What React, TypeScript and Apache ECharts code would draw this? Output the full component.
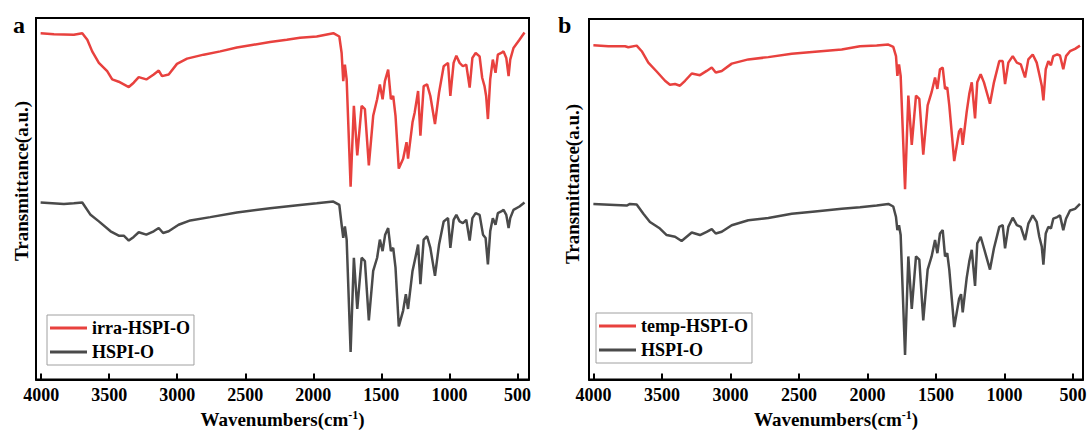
import React, { useEffect, useRef } from 'react';
import * as echarts from 'echarts';

// Wavenumber tick values (cm^-1)
const xTicks = [500, 1000, 1500, 2000, 2500, 3000, 3500, 4000];

// Panel a: [wavenumber, transmittance (a.u., offset)]
const irraHSPIO: [number, number][] = [
  [4004, 349.7], [3906, 348.7], [3760, 348], [3698, 349.7], [3661, 343], [3625, 331.3], [3576, 319.7],
  [3515, 311.3], [3478, 303], [3430, 300.7], [3393, 298], [3356, 295.3], [3320, 299.7], [3283, 305.3],
  [3227, 303], [3173, 308], [3136, 312], [3112, 306.3], [3063, 308], [3002, 318.7], [2928, 324],
  [2806, 328], [2684, 331.3], [2562, 335.3], [2440, 338], [2318, 340.7], [2195, 343], [2098, 345],
  [1975, 346.3], [1853, 349.7], [1809, 346.3], [1792, 329.7], [1780, 301.3], [1768, 318], [1755, 303],
  [1726, 194.7], [1702, 276.3], [1677, 226.3], [1645, 276.3], [1621, 273], [1592, 216.3], [1560, 266.3],
  [1531, 283], [1511, 298], [1491, 283], [1474, 301.3], [1450, 313], [1430, 283], [1413, 286.3],
  [1396, 266.3], [1372, 213], [1340, 223], [1315, 239.7], [1304, 223], [1271, 259.7], [1255, 269.7],
  [1230, 291.3], [1213, 246.3], [1189, 296.3], [1164, 298], [1140, 286.3], [1106, 258], [1076, 289.7],
  [1042, 316.3], [1010, 319.7], [993, 286.3], [969, 319.7], [949, 327], [925, 319.7], [901, 316.3],
  [876, 318], [851, 294.7], [831, 324.7], [807, 329.7], [778, 326.3], [759, 304.7], [742, 296.3],
  [730, 286.3], [717, 263], [700, 303], [681, 323], [661, 309.7], [644, 328], [619, 329.7], [602, 331.3],
  [582, 324.7], [565, 306.3], [553, 323], [529, 334.7], [485, 343], [448, 350.3],
];

const hspiOA: [number, number][] = [
  [4004, 178.7], [3833, 177.3], [3760, 178], [3698, 178.7], [3637, 166.3], [3576, 159.7], [3490, 149.7],
  [3430, 145.3], [3393, 145.3], [3356, 140.3], [3320, 144], [3283, 148.7], [3227, 146.3], [3173, 149.7],
  [3136, 153], [3104, 148], [3063, 149.7], [2990, 156.3], [2904, 160.7], [2757, 164], [2562, 168.7],
  [2318, 173], [2098, 176.3], [1975, 178], [1853, 179.7], [1809, 176.3], [1792, 156.3], [1780, 143],
  [1768, 154.7], [1755, 141.3], [1726, 28], [1702, 123], [1677, 71.3], [1645, 123], [1621, 119.7],
  [1592, 59.7], [1560, 109.7], [1531, 123], [1511, 141.3], [1491, 129.7], [1472, 146.3], [1450, 153],
  [1430, 129.7], [1413, 133], [1396, 113], [1372, 53.7], [1340, 69.7], [1320, 86.3], [1304, 71.3],
  [1271, 109.7], [1255, 119.7], [1230, 136.3], [1213, 96.3], [1189, 141.3], [1164, 144.7], [1140, 133],
  [1106, 104.7], [1076, 136.3], [1042, 159.7], [1010, 163], [993, 133], [969, 161.3], [949, 166.3],
  [925, 159.7], [901, 158], [876, 161.3], [851, 140.3], [831, 163], [807, 168], [778, 166.3], [753, 146.3],
  [734, 143], [717, 116.3], [700, 149.7], [681, 163], [661, 156.3], [644, 168], [619, 169.7], [602, 171.3],
  [582, 166.3], [565, 153], [553, 163], [529, 171.3], [485, 174.7], [448, 178.7],
];

// Panel b
const tempHSPIO: [number, number][] = [
  [4001, 339.3], [3892, 338.3], [3770, 338.3], [3746, 337.3], [3685, 339], [3648, 333.3], [3600, 321.7],
  [3539, 312.7], [3478, 303.3], [3442, 299.3], [3405, 300], [3369, 298.3], [3332, 303.3], [3283, 310.7],
  [3223, 309], [3174, 313.3], [3137, 316.7], [3108, 311.7], [3064, 313.3], [2991, 320.7], [2870, 325],
  [2724, 327.3], [2553, 330.7], [2383, 332.7], [2188, 335], [2055, 338.3], [1933, 339], [1848, 340],
  [1812, 337.7], [1792, 328.3], [1782, 308.3], [1770, 320], [1758, 308.3], [1726, 193.3], [1702, 288.3],
  [1677, 238.3], [1646, 288.3], [1622, 285], [1593, 228.3], [1561, 278.3], [1532, 291.7], [1507, 306.7],
  [1490, 295], [1471, 315], [1451, 316.7], [1434, 295], [1418, 296.7], [1403, 278.3], [1367, 221.7],
  [1332, 251.7], [1317, 255], [1305, 238.3], [1276, 271.7], [1257, 290], [1239, 301.7], [1215, 265],
  [1199, 301.7], [1174, 310], [1150, 301.7], [1106, 280], [1077, 301.7], [1038, 323.3], [1013, 323.3],
  [996, 300], [972, 321.7], [940, 328.3], [910, 321.7], [881, 320], [850, 306.7], [826, 325], [794, 330],
  [765, 321.7], [746, 310], [728, 298.3], [716, 283.3], [699, 315], [680, 323.3], [661, 319], [644, 328.3],
  [615, 330], [595, 329], [571, 315], [551, 328.3], [522, 333.3], [485, 335.7], [449, 339],
];

const hspiOB: [number, number][] = [
  [4001, 178.3], [3843, 177.3], [3758, 176.7], [3734, 178.3], [3685, 177.7], [3636, 168.3], [3588, 160],
  [3515, 153.3], [3466, 146.7], [3405, 145], [3357, 140.7], [3320, 145], [3283, 149.3], [3223, 146.7],
  [3174, 150], [3137, 152.7], [3108, 148.3], [3064, 150], [2991, 156.7], [2870, 161.7], [2724, 164],
  [2553, 168.3], [2383, 170.7], [2188, 173.3], [2055, 175], [1933, 176.7], [1848, 178.3], [1812, 175.7],
  [1792, 165], [1782, 151.7], [1770, 156.7], [1758, 146.7], [1726, 25], [1702, 125], [1677, 71.7],
  [1646, 125], [1622, 121.7], [1593, 60], [1561, 111.7], [1532, 125], [1507, 141.7], [1490, 128.3],
  [1471, 148.3], [1451, 151.7], [1434, 125], [1418, 128.3], [1403, 111.7], [1367, 53.3], [1332, 81.7],
  [1317, 86.7], [1305, 68.3], [1276, 103.3], [1257, 120], [1239, 131.7], [1215, 95], [1199, 138.3],
  [1174, 145], [1150, 133.3], [1106, 111.7], [1077, 133.3], [1038, 155], [1013, 156.7], [996, 133.3],
  [972, 155], [940, 164.3], [910, 156.7], [881, 155], [850, 141.7], [826, 158.3], [794, 166.7], [765, 160],
  [746, 145], [728, 135], [716, 116.7], [699, 148.3], [680, 155], [661, 153.3], [644, 163.3], [615, 165],
  [595, 166.7], [571, 151.7], [551, 163.3], [522, 171.7], [485, 173.3], [449, 178.3],
];

const FONT = 'Liberation Serif';
const RED = '#e8413e';
const GRAY = '#4a4a4a';

function makeXAxis(gridIndex: number, min: number, max: number) {
  return {
    type: 'value',
    gridIndex,
    inverse: true,
    min,
    max,
    axisLine: { show: true, onZero: false, lineStyle: { color: '#000', width: 2 } },
    axisTick: { show: true, inside: true, length: 6, customValues: xTicks, lineStyle: { color: '#000', width: 2 } },
    axisLabel: {
      customValues: xTicks,
      formatter: (v: number) => String(v),
      margin: 6,
      fontSize: 18,
      fontWeight: 'bold',
      fontFamily: FONT,
      color: '#000',
    },
    splitLine: { show: false },
    name: '{a|Wavenumbers(cm}{s|-1}{a|)}',
    nameLocation: 'middle',
    nameGap: 26,
    nameTextStyle: {
      fontFamily: FONT,
      fontWeight: 'bold',
      rich: {
        a: { fontSize: 19, fontWeight: 'bold', fontFamily: FONT, color: '#000', lineHeight: 22 },
        s: { fontSize: 12, fontWeight: 'bold', fontFamily: FONT, color: '#000', verticalAlign: 'top', lineHeight: 12 },
      },
    },
  };
}

function makeLegend(names: string[], left: number, top: number) {
  return {
    data: names,
    orient: 'vertical',
    left,
    top,
    icon: 'rect',
    itemWidth: 37,
    itemHeight: 3,
    itemGap: 6,
    padding: [4, 4, 4, 3],
    borderColor: '#a0a0a0',
    borderWidth: 1,
    selectedMode: false,
    textStyle: { fontSize: 18, fontWeight: 'bold', fontFamily: FONT, color: '#000' },
  };
}

function lineSeries(name: string, data: [number, number][], idx: number, color: string) {
  return {
    type: 'line',
    name,
    data,
    xAxisIndex: idx,
    yAxisIndex: idx,
    symbol: 'none',
    lineStyle: { width: 2.5, color },
    itemStyle: { color },
  };
}

export default function App() {
  const ref = useRef<HTMLDivElement>(null);

  useEffect(() => {
    if (!ref.current) return;
    const chart = echarts.init(ref.current, undefined, { renderer: 'svg' });
    const textStyleBold = { fill: '#000', fontWeight: 'bold', fontFamily: FONT };
    chart.setOption({
      animation: false,
      backgroundColor: '#fff',
      textStyle: { fontFamily: FONT },
      grid: [
        { left: 36, top: 18, width: 493, height: 365, show: true, borderColor: '#000', borderWidth: 2 },
        { left: 589, top: 19, width: 494, height: 366, show: true, borderColor: '#000', borderWidth: 2 },
      ],
      xAxis: [makeXAxis(0, 415, 4038), makeXAxis(1, 427, 4033)],
      yAxis: [
        { type: 'value', gridIndex: 0, min: 0, max: 365, show: false },
        { type: 'value', gridIndex: 1, min: 0, max: 366, show: false },
      ],
      legend: [
        makeLegend(['irra-HSPI-O', 'HSPI-O'], 47, 315),
        makeLegend(['temp-HSPI-O', 'HSPI-O'], 596, 313),
      ],
      series: [
        lineSeries('irra-HSPI-O', irraHSPIO, 0, RED),
        lineSeries('HSPI-O', hspiOA, 0, GRAY),
        lineSeries('temp-HSPI-O', tempHSPIO, 1, RED),
        lineSeries('HSPI-O', hspiOB, 1, GRAY),
      ],
      graphic: [
        { type: 'text', x: 13, y: 25, style: { ...textStyleBold, text: 'a', fontSize: 24, verticalAlign: 'middle' } },
        { type: 'text', x: 558, y: 25, style: { ...textStyleBold, text: 'b', fontSize: 24, verticalAlign: 'middle' } },
        {
          type: 'text', x: 21, y: 181, rotation: Math.PI / 2,
          style: { ...textStyleBold, text: 'Transmittance(a.u.)', fontSize: 19, align: 'center', verticalAlign: 'middle' },
        },
        {
          type: 'text', x: 572, y: 184, rotation: Math.PI / 2,
          style: { ...textStyleBold, text: 'Transmittance(a.u.)', fontSize: 19, align: 'center', verticalAlign: 'middle' },
        },
      ],
    });
    return () => chart.dispose();
  }, []);

  return (
    <div
      ref={ref}
      style={{ position: 'absolute', left: 0, top: 0, width: 1090, height: 434, background: '#fff' }}
    />
  );
}
